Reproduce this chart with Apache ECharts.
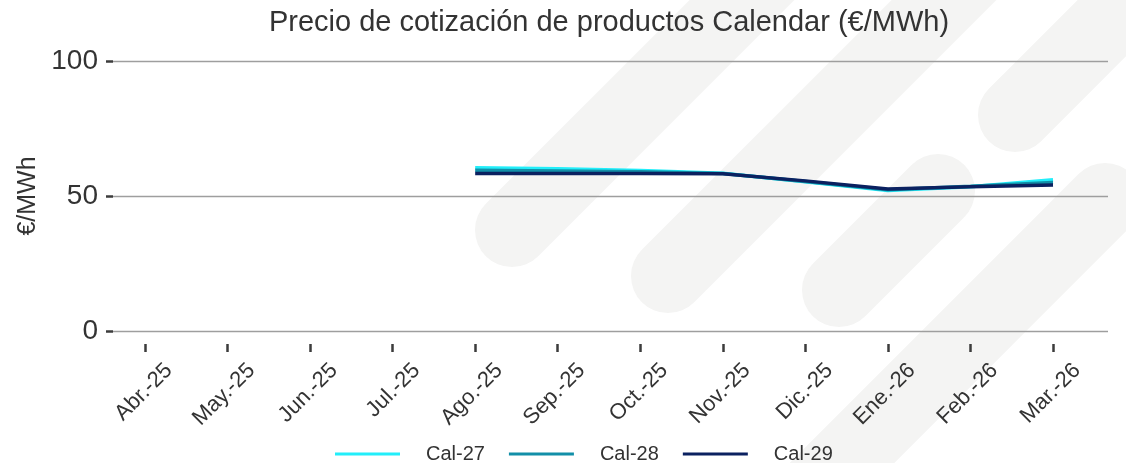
<!DOCTYPE html>
<html>
<head>
<meta charset="utf-8">
<script src="https://cdn.jsdelivr.net/npm/echarts@6/dist/echarts.min.js"></script>
<style>
  html, body { margin: 0; padding: 0; background: #fff; }
  #chart { width: 1126px; height: 463px; }
</style>
</head>
<body>
<div id="chart"></div>
<script>
const months = ['Abr.-25', 'May.-25', 'Jun.-25', 'Jul.-25', 'Ago.-25', 'Sep.-25',
  'Oct.-25', 'Nov.-25', 'Dic.-25', 'Ene.-26', 'Feb.-26', 'Mar.-26'];
const cal27 = [null, null, null, null, 60.5, 60.1, 59.4, 58.4, 55.3, 52.0, 53.4, 56.0];
const cal28 = [null, null, null, null, 59.5, 59.3, 59.0, 58.3, 55.4, 52.3, 53.6, 55.0];
const cal29 = [null, null, null, null, 58.3, 58.3, 58.3, 58.2, 55.6, 52.6, 53.4, 54.1];
const yTicks = [0, 50, 100];

const font = 'Liberation Sans, Arial, sans-serif';
const textColor = '#333333';

// watermark stripes behind the plot
const stripe = (x1, y1, x2, y2) => ({
  type: 'line',
  silent: true,
  z: -10,
  shape: { x1, y1, x2, y2 },
  style: { stroke: '#f4f4f3', lineWidth: 74, lineCap: 'round' }
});

const chart = echarts.init(document.getElementById('chart'));

const option = {
  animation: false,
  backgroundColor: '#ffffff',
  textStyle: { fontFamily: font },
  color: ['#22eefa', '#128fa8', '#0b2160'],
  title: {
    text: 'Precio de cotización de productos Calendar (€/MWh)',
    left: 604,
    textAlign: 'center',
    top: 3,
    textStyle: { fontFamily: font, fontSize: 29, fontWeight: 'normal', color: textColor }
  },
  graphic: [
    stripe(512, 230, 812, -70),
    stripe(668, 276, 1020, -76),
    stripe(839, 290, 938, 191),
    stripe(1015, 115, 1200, -70),
    stripe(1105, 200, 800, 505)
  ],
  legend: {
    left: 330,
    top: 439,
    icon: 'rect',
    itemWidth: 65,
    itemHeight: 3,
    itemGap: 24,
    data: ['Cal-27', 'Cal-28', 'Cal-29'],
    textStyle: { fontFamily: font, fontSize: 20, color: textColor, padding: [0, 0, 0, 21] }
  },
  grid: [
    // plotting area for the series (bottom extended so the ticks sit below the zero line)
    { left: 103.7, right: 31.7, top: 61, bottom: 119 },
    // y axis with gridlines
    { left: 113, right: 18, top: 61, bottom: 132 },
    // shifted copy for the rotated month labels
    { left: 127.7, right: 7.7, top: 61, bottom: 132 }
  ],
  xAxis: [
    {
      gridIndex: 0,
      type: 'category',
      data: months,
      boundaryGap: true,
      axisLine: { show: false, onZero: false },
      axisTick: { show: true, alignWithLabel: true, length: 8, lineStyle: { color: '#3c3c3c', width: 2.5 } },
      axisLabel: { show: false },
      splitLine: { show: false }
    },
    { gridIndex: 1, type: 'value', min: 0, max: 1, show: false },
    {
      gridIndex: 2,
      type: 'category',
      data: months,
      boundaryGap: true,
      axisLine: { show: false, onZero: false },
      axisTick: { show: false },
      axisLabel: { rotate: 45, margin: 36, interval: 0, fontSize: 22, color: textColor, fontFamily: font },
      splitLine: { show: false }
    }
  ],
  yAxis: [
    { gridIndex: 0, type: 'value', min: -13 / 2.7, max: 100, show: false },
    {
      gridIndex: 1,
      type: 'value',
      min: yTicks[0],
      max: yTicks[yTicks.length - 1],
      interval: 50,
      name: '€/MWh',
      nameLocation: 'middle',
      nameGap: 64,
      nameTextStyle: { fontSize: 25, color: textColor, fontFamily: font },
      axisLine: { show: false },
      axisTick: { show: true, length: 7, lineStyle: { color: '#3c3c3c', width: 2.5 } },
      axisLabel: { fontSize: 28, margin: 15, color: textColor, fontFamily: font },
      splitLine: { show: true, lineStyle: { color: '#9e9e9e', width: 1.3 } }
    },
    { gridIndex: 2, type: 'value', min: 0, max: 100, show: false }
  ],
  series: [
    { name: 'Cal-27', type: 'line', xAxisIndex: 0, yAxisIndex: 0, data: cal27, symbol: 'none', lineStyle: { width: 3.5 } },
    { name: 'Cal-28', type: 'line', xAxisIndex: 0, yAxisIndex: 0, data: cal28, symbol: 'none', lineStyle: { width: 3.5 } },
    { name: 'Cal-29', type: 'line', xAxisIndex: 0, yAxisIndex: 0, data: cal29, symbol: 'none', lineStyle: { width: 3.5 } }
  ]
};

chart.setOption(option);
window.addEventListener('resize', () => chart.resize());
</script>
</body>
</html>
